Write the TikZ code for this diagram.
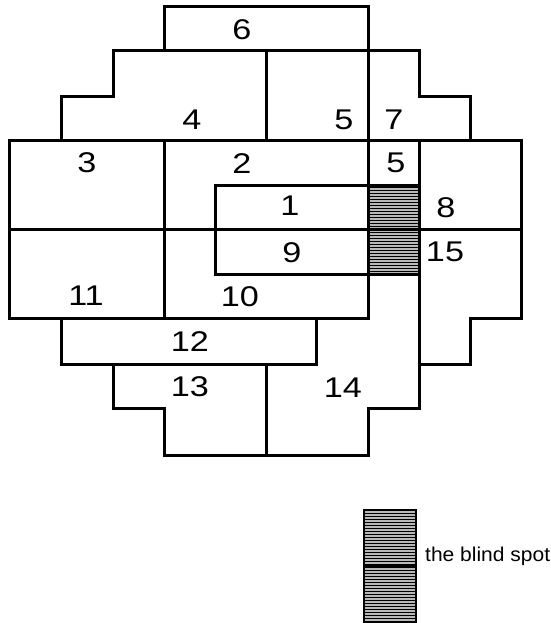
\documentclass[tikz,border=0pt]{standalone}
\usepackage{fontspec}
\setmainfont{Liberation Sans}
\newfontfamily\numfont[FakeStretch=1.2]{Liberation Sans}
\newfontfamily\legfont[FakeStretch=1.05]{Liberation Sans}
\begin{document}
\begin{tikzpicture}[x=1pt,y=-1pt,
  wall/.style={line width=3pt, line cap=rect, line join=miter},
  num/.style={font=\numfont\fontsize{28.5}{30}\selectfont, inner sep=0pt, anchor=center},
  legtext/.style={font=\legfont\fontsize{20}{22}\selectfont, inner sep=0pt, anchor=base west},
  stripe/.style={line width=1pt, black},
  stripebg/.style={fill=gray!55}]
\useasboundingbox (0,0) rectangle (550,623);
% blind spot in the field
\fill[stripebg] (368,185) rectangle (419,274);
\foreach \y in {187,190,...,273} {\draw[stripe] (368,\y) -- (419,\y);}
% outer outline
\draw[wall] (164,7) -- (368,7) -- (368,51) -- (419,51) -- (419,97) -- (470,97) -- (470,140)
  -- (521,140) -- (521,318) -- (470,318) -- (470,364) -- (419,364) -- (419,408)
  -- (368,408) -- (368,455) -- (164,455) -- (164,408) -- (113,408) -- (113,364)
  -- (61,364) -- (61,318) -- (9,318) -- (9,140) -- (61,140) -- (61,97) -- (113,97)
  -- (113,51) -- (164,51) -- cycle;
% internal lines
\draw[wall] (164,51) -- (368,51);
\draw[wall] (266,51) -- (266,140);
\draw[wall] (9,140) -- (470,140);
\draw[wall] (368,51) -- (368,318);
\draw[wall] (164,140) -- (164,318);
\draw[wall] (419,140) -- (419,364);
\draw[wall] (215,185) -- (419,185);
\draw[wall] (9,229) -- (521,229);
\draw[wall] (215,185) -- (215,274);
\draw[wall] (215,274) -- (419,274);
\draw[wall] (61,318) -- (368,318);
\draw[wall] (316,318) -- (316,364);
\draw[wall] (113,364) -- (316,364);
\draw[wall] (266,364) -- (266,455);
% labels
\node[num] (l6) at (242,30) {6};
\node[num] (l4) at (192,120) {4};
\node[num] (l5a) at (344,120) {5};
\node[num] (l7) at (394,120) {7};
\node[num] (l3) at (87,163) {3};
\node[num] (l2) at (242,164) {2};
\node[num] (l5b) at (396,163) {5};
\node[num] (l1) at (290,206) {1};
\node[num] (l8) at (446,208) {8};
\node[num] (l9) at (292,253) {9};
\node[num] (l15) at (445,252) {15};
\node[num] (l11) at (86,296) {11};
\node[num] (l10) at (240,297) {10};
\node[num] (l12) at (190,342) {12};
\node[num] (l13) at (190,387) {13};
\node[num] (l14) at (343,388) {14};
% legend
\fill[stripebg] (364,510) rectangle (416,622);
\foreach \y in {513,516,...,620} {\draw[stripe] (364,\y) -- (416,\y);}
\draw[line width=2pt] (364,510) rectangle (416,622);
\draw[line width=2.5pt] (364,566) -- (416,566);
\node[legtext] (leg) at (425,561.5) {the blind spot};
\end{tikzpicture}
\end{document}
